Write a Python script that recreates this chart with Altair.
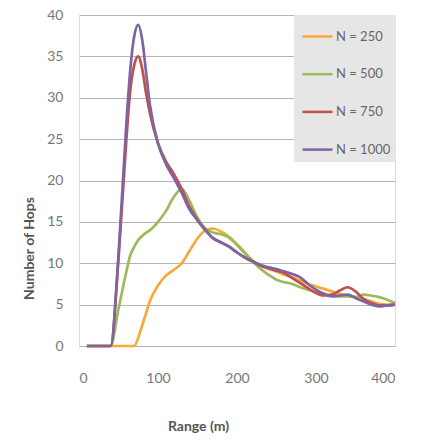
import altair as alt
import pandas as pd

x_range = [10, 20, 30, 40, 50, 60, 65, 70, 75, 80, 85, 90, 100, 110, 120, 130, 140, 150,
           160, 170, 180, 190, 200, 210, 220, 230, 240, 250, 260, 270, 280, 290, 300,
           310, 320, 330, 340, 350, 360, 370, 380, 390, 400]

n250 = [0, 0, 0, 0, 0, 0, 0, 0, 1, 2.5, 4, 5.5, 7.3, 8.5, 9.2, 10, 11.5, 13,
        14, 14.2, 13.8, 13.2, 12.3, 11.3, 10.3, 9.7, 9.3, 9, 8.6, 8.3, 7.9, 7.5, 7.2,
        6.9, 6.6, 6.3, 6.1, 5.9, 5.7, 5.4, 5.1, 5.0, 5.0]
n500 = [0, 0, 0, 0, 4.5, 9, 11, 12, 12.8, 13.3, 13.7, 14, 15, 16.3, 18, 19, 17.5, 15.5,
        14.2, 13.7, 13.5, 13.1, 12.2, 11.2, 10.2, 9.3, 8.6, 8.0, 7.7, 7.5, 7.1, 6.8, 6.5,
        6.3, 6.1, 6.0, 6.0, 5.9, 6.2, 6.1, 5.9, 5.6, 5.2]
n750 = [0, 0, 0, 0, 10.5, 25, 31, 34, 35, 33.5, 30.5, 28, 24.5, 22.3, 20.8, 19, 16.8, 15.2,
        14, 13, 12.5, 12, 11.3, 10.7, 10.2, 9.7, 9.4, 9.1, 8.8, 8.2, 7.6, 7.0, 6.4,
        6.1, 6.2, 6.7, 7.1, 6.6, 5.7, 5.2, 4.9, 4.9, 5.0]
n1000 = [0, 0, 0, 0, 11, 27, 33.5, 37.5, 38.8, 37, 33, 29, 24.5, 22, 20.3, 18.5, 16.5, 15.2,
         14, 13, 12.5, 12, 11.3, 10.7, 10.2, 9.8, 9.5, 9.3, 9, 8.7, 8.3, 7.5, 6.8,
         6.3, 6.0, 6.1, 6.2, 5.8, 5.4, 5.0, 4.8, 4.9, 5.0]

series = ["N = 250", "N = 500", "N = 750", "N = 1000"]
colors = ["#F9A83A", "#9BBB59", "#C0504D", "#8064A2"]

rows = []
for name, ys in zip(series, [n250, n500, n750, n1000]):
    for xv, yv in zip(x_range, ys):
        rows.append({"Range": xv, "Hops": yv, "Series": name})
df = pd.DataFrame(rows)

FONT = "Lato"

chart = alt.Chart(df).mark_line(strokeWidth=2.7, interpolate="monotone").encode(
    x=alt.X("Range:Q", scale=alt.Scale(domain=[0, 400], nice=False),
            axis=alt.Axis(title="Range (m)", values=[0, 100, 200, 300, 400],
                          grid=False, ticks=False, domain=False,
                          labelPadding=25, labelFontSize=14, labelColor="#777777",
                          labelFont=FONT,
                          titleFont=FONT, titleFontSize=14, titleFontWeight="bold",
                          titleColor="#555555", titleX=119, titleY=73)),
    y=alt.Y("Hops:Q", scale=alt.Scale(domain=[0, 40], nice=False),
            axis=alt.Axis(title="Number of Hops", values=[0, 5, 10, 15, 20, 25, 30, 35, 40],
                          grid=True, gridColor="#b5b5b5", gridWidth=1,
                          ticks=False, domain=True, domainColor="#dddddd",
                          labelPadding=16, labelFontSize=14, labelColor="#777777",
                          labelFont=FONT,
                          titleFont=FONT, titleFontSize=14, titleFontWeight="bold",
                          titleColor="#555555", titleX=-43, titleY=233)),
    color=alt.Color("Series:N", sort=series,
                    scale=alt.Scale(domain=series, range=colors),
                    legend=alt.Legend(title=None, orient="none", legendX=215, legendY=0,
                                      symbolType="stroke", symbolSize=900,
                                      symbolStrokeWidth=2.5, labelFontSize=13,
                                      labelFont=FONT, labelColor="#666666",
                                      labelOffset=2, rowPadding=13.7,
                                      symbolOffset=2,
                                      fillColor="#e6e6e6", padding=5,
                                      offset=0)),
).properties(
    width=316, height=331,
    autosize=alt.AutoSizeParams(type="none"),
    padding={"left": 79, "top": 15, "right": 38, "bottom": 98},
).configure_view(stroke=None).configure(background="white")

chart.save("out.html", embed_options={"renderer": "svg", "actions": False})
